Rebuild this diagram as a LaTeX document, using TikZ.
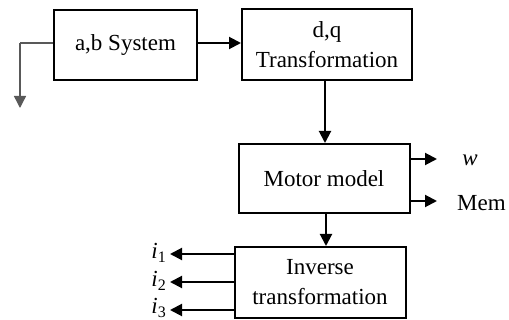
\documentclass[tikz,border=0pt]{standalone}
\usepackage{fontspec}
\setmainfont{Liberation Serif}
\usetikzlibrary{arrows.meta}
\newcommand{\isub}[1]{\textit{i}\raisebox{-3.5pt}{\fontsize{16}{16}\selectfont #1}}
\begin{document}
\begin{tikzpicture}[x=1pt,y=-1pt,
  blk/.style={draw,line width=2pt,inner sep=0pt,align=center,font=\fontsize{23}{30}\selectfont},
  arr/.style={line width=2pt,-{Triangle[length=12pt,width=12pt]}},
  lbl/.style={font=\fontsize{23}{26}\selectfont,inner sep=0pt}]
\useasboundingbox (0,0) rectangle (509,320);
\node[blk,minimum width=143pt,minimum height=70pt] (ab) at (125.5,45) {a,b System};
\node[blk,minimum width=170pt,minimum height=71pt] (dq) at (327,45) {d,q\\Transformation};
\node[blk,minimum width=171pt,minimum height=69pt] (mm) at (324,178.5) {Motor model};
\node[blk,minimum width=171pt,minimum height=71pt] (inv) at (320,282.5) {Inverse\\transformation};
\coordinate (c1) at (20,43);
\coordinate (c2) at (20,108);
\draw[line width=1.4pt,gray!70!black] (ab.west|-c1) -- (c1);
\draw[line width=1.4pt,gray!70!black,-{Triangle[length=12pt,width=12pt]}] (c1) -- (c2);
\draw[arr] (ab.east|-0,43) -- (dq.west|-0,43);
\draw[arr] (dq.south-|325,0) -- (mm.north-|325,0);
\draw[arr] (mm.south-|326,0) -- (inv.north-|326,0);
\coordinate (w) at (437,159);
\coordinate (m) at (437,201);
\draw[arr] (mm.east|-w) -- (w);
\draw[arr] (mm.east|-m) -- (m);
\node[lbl,anchor=center] (wl) at (470,160) {\textit{w}};
\node[lbl,anchor=west] (ml) at (457,203) {Mem};
\coordinate (i1) at (170,254);
\coordinate (i2) at (170,282);
\coordinate (i3) at (170,310);
\draw[arr] (inv.west|-i1) -- (i1);
\draw[arr] (inv.west|-i2) -- (i2);
\draw[arr] (inv.west|-i3) -- (i3);
\node[lbl,anchor=east] (l1) at (166,253) {\isub{1}};
\node[lbl,anchor=east] (l2) at (166,281) {\isub{2}};
\node[lbl,anchor=east] (l3) at (166,308) {\isub{3}};
\end{tikzpicture}
\end{document}
